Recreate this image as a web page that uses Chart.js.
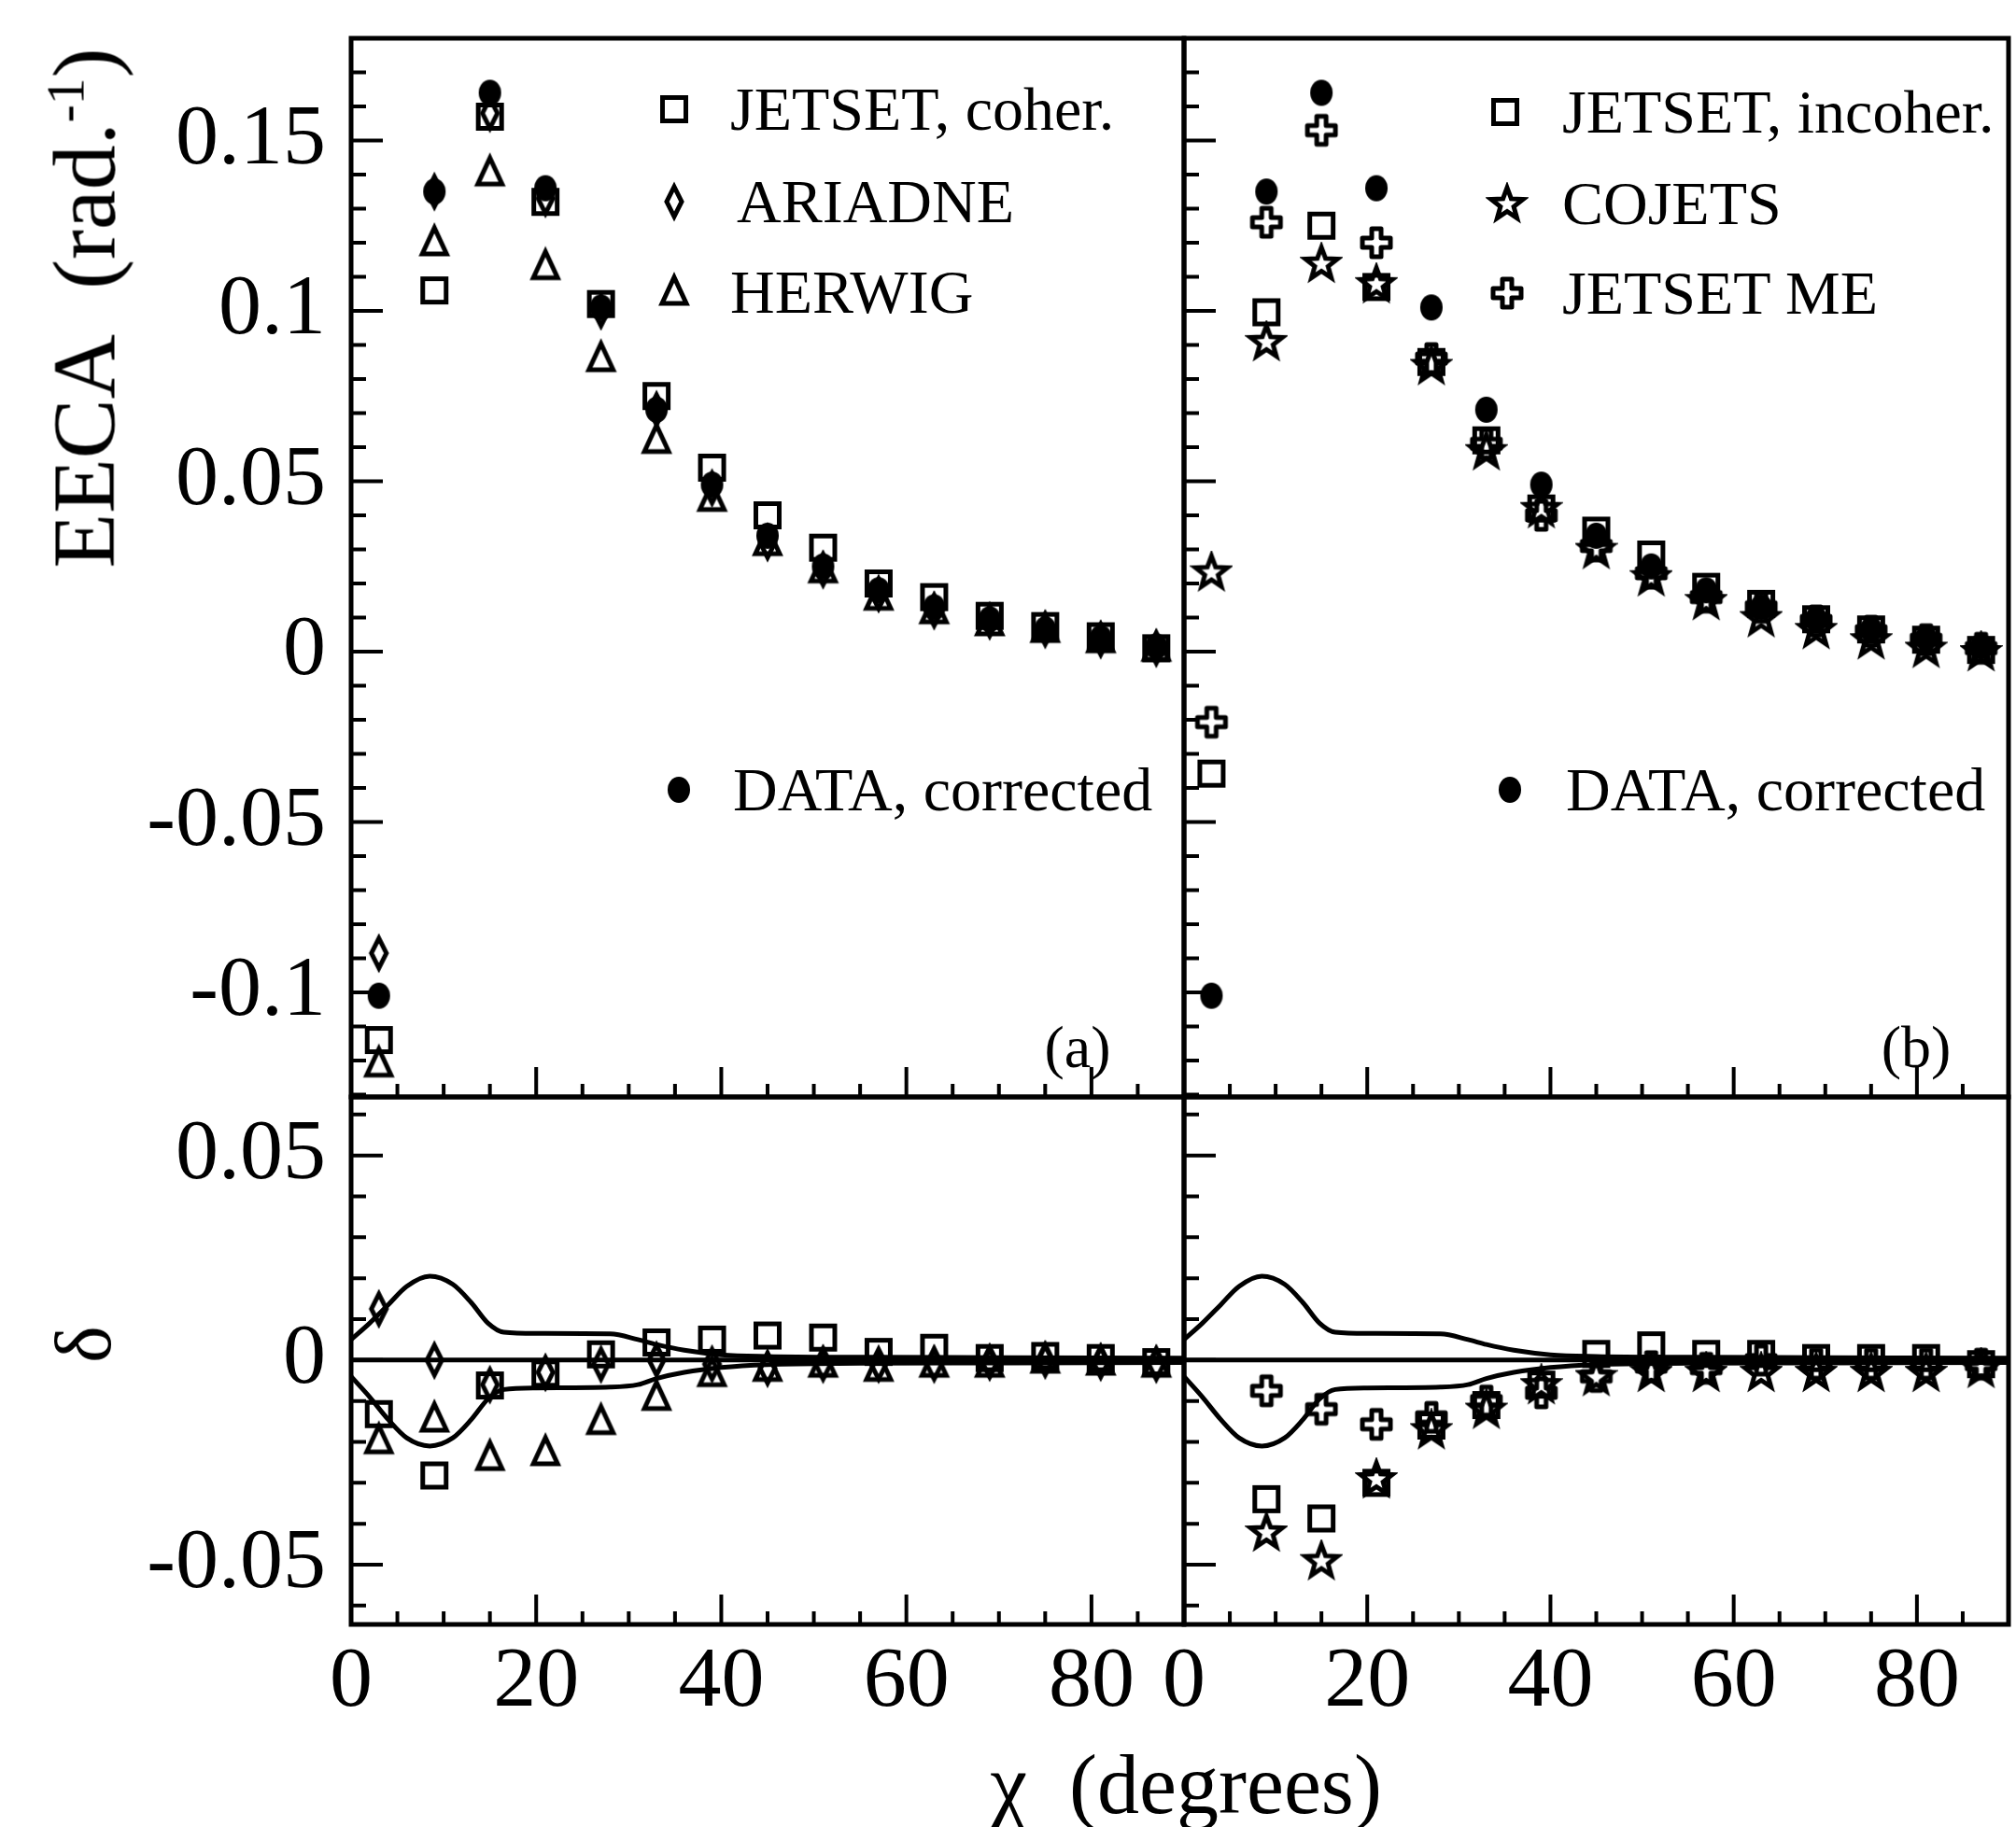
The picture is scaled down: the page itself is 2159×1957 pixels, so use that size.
<!DOCTYPE html>
<html>
<head>
<meta charset="utf-8">
<script src="https://cdn.jsdelivr.net/npm/chart.js@4.4.1/dist/chart.umd.min.js"></script>
<style>
html, body { margin: 0; padding: 0; background: #fff; overflow: hidden; }
#page { position: relative; width: 2159px; height: 1957px; overflow: hidden; background: #fff;
        font-family: "Liberation Serif", "DejaVu Serif", serif; color: #000; }
#page canvas.chart { position: absolute; left: 0; top: 0; }
.txt { position: absolute; white-space: nowrap; line-height: 1; }
.mk { position: absolute; }
</style>
</head>
<body>
<div id="page">
  <canvas class="chart" id="topA" width="2159" height="1957"></canvas>
  <canvas class="chart" id="topB" width="2166" height="1957"></canvas>
  <canvas class="chart" id="botA" width="2159" height="1957"></canvas>
  <canvas class="chart" id="botB" width="2166" height="1957"></canvas>
</div>
<script>
// bin centres (degrees)
const CHI = [3, 9, 15, 21, 27, 33, 39, 45, 51, 57, 63, 69, 75, 81, 87];

// EECA values
const DATA_EECA     = [-0.101, 0.135, 0.164, 0.136, 0.101, 0.071, 0.049, 0.034, 0.025, 0.018, 0.013, 0.0095, 0.0065, 0.004, 0.0015];
const COHER_EECA    = [-0.114, 0.106, 0.157, 0.132, 0.102, 0.075, 0.054, 0.040, 0.0305, 0.020, 0.016, 0.0105, 0.0075, 0.0045, 0.001];
const ARIADNE_EECA  = [-0.0885, 0.135, 0.158, 0.133, 0.100, 0.071, 0.048, 0.032, 0.024, 0.017, 0.012, 0.009, 0.0065, 0.0035, 0.001];
const HERWIG_EECA   = [-0.121, 0.120, 0.1405, 0.113, 0.086, 0.062, 0.045, 0.032, 0.024, 0.016, 0.012, 0.0085, 0.0065, 0.0035, 0.001];
const INCOHER_EECA  = [-0.0358, 0.0996, 0.125, 0.107, 0.085, 0.062, 0.042, 0.0355, 0.0285, 0.019, 0.014, 0.0095, 0.0065, 0.0035, 0.0005];
const COJETS_EECA   = [0.0234, 0.091, 0.114, 0.108, 0.084, 0.059, 0.042, 0.030, 0.022, 0.015, 0.010, 0.0065, 0.0035, 0.001, 0.0];
const JETSETME_EECA = [-0.0207, 0.126, 0.153, 0.120, 0.086, 0.061, 0.040, 0.031, 0.023, 0.016, 0.013, 0.009, 0.006, 0.0035, 0.001];

// delta values
const COHER_D    = [-0.0132, -0.0282, -0.0062, -0.0033, 0.0014, 0.0043, 0.0050, 0.0060, 0.0055, 0.0020, 0.0030, 0.0005, 0.0010, 0.0005, -0.0005];
const ARIADNE_D  = [0.0125, 0.0, -0.0060, -0.0030, -0.0010, 0.0, -0.0010, -0.0020, -0.0010, -0.0010, -0.0010, -0.0005, 0.0, -0.0005, -0.0010];
const HERWIG_D   = [-0.0197, -0.0144, -0.0238, -0.0226, -0.0150, -0.0091, -0.0033, -0.0020, -0.0010, -0.0020, -0.0010, -0.0010, 0.0, -0.0005, -0.0010];
const INCOHER_D  = [0.070, -0.034, -0.0387, -0.030, -0.016, -0.011, -0.006, 0.0015, 0.0036, 0.0015, 0.0015, 0.0005, 0.0005, 0.0005, -0.001];
const COJETS_D   = [0.125, -0.042, -0.049, -0.029, -0.017, -0.012, -0.006, -0.004, -0.003, -0.003, -0.003, -0.003, -0.003, -0.003, -0.002];
const JETSETME_D = [0.081, -0.0075, -0.012, -0.0157, -0.014, -0.010, -0.008, -0.004, -0.0016, -0.002, 0.0, -0.001, -0.001, -0.001, -0.001];

// data error band in the lower panels
const BAND_CHI = [0, 2, 4, 6, 8.5, 11, 13, 14.8, 16.5, 20, 28, 31, 33, 36, 40, 45, 55, 70, 90];
const BAND_UP  = [0.005, 0.009, 0.0135, 0.018, 0.0205, 0.0185, 0.014, 0.009, 0.0068, 0.0065, 0.0064, 0.0050, 0.0038, 0.0024, 0.0013, 0.0009, 0.0007, 0.0006, 0.0005];
const BAND_LO  = [-0.004, -0.009, -0.0145, -0.019, -0.021, -0.019, -0.0145, -0.0095, -0.0072, -0.0068, -0.0066, -0.0060, -0.0045, -0.0030, -0.0018, -0.0011, -0.0008, -0.0007, -0.0006];
const ZERO_CHI = [0, 90];
const ZERO_D   = [0, 0];

// axes
const X_TICKS = [0, 20, 40, 60, 80];
const X_LABELS = ['0', '20', '40', '60', '80'];
const Y_TOP_TICKS = [-0.1, -0.05, 0, 0.05, 0.1, 0.15];
const Y_TOP_LABELS = ['-0.1', '-0.05', '0', '0.05', '0.1', '0.15'];
const Y_BOT_TICKS = [-0.05, 0, 0.05];
const Y_BOT_LABELS = ['-0.05', '0', '0.05'];

const FONT = '"Liberation Serif", "DejaVu Serif", serif';

// marker pictures used as point styles
function makeMarker(kind) {
    const c = document.createElement('canvas');
    c.width = 46; c.height = 46;
    const g = c.getContext('2d');
    const cx = 23, cy = 23;
    g.strokeStyle = '#000';
    g.fillStyle = '#000';
    g.lineWidth = 5;
    g.lineJoin = 'miter';
    g.beginPath();
    if (kind === 'square') {
        g.rect(cx - 12.5, cy - 12.5, 25, 25);
    } else if (kind === 'triangle') {
        g.moveTo(cx, cy - 16); g.lineTo(cx + 13, cy + 12); g.lineTo(cx - 13, cy + 12); g.closePath();
    } else if (kind === 'diamond') {
        g.moveTo(cx, cy - 16); g.lineTo(cx + 8, cy); g.lineTo(cx, cy + 16); g.lineTo(cx - 8, cy); g.closePath();
    } else if (kind === 'circle') {
        g.ellipse(cx, cy, 12, 14, 0, 0, 2 * Math.PI);
        g.fill();
        return c;
    } else if (kind === 'star') {
        for (let i = 0; i < 10; i++) {
            const r = i % 2 === 0 ? 18 : 7.5;
            const a = -Math.PI / 2 + i * Math.PI / 5;
            const px = cx + r * Math.cos(a), py = cy + 1 + r * Math.sin(a);
            if (i === 0) g.moveTo(px, py); else g.lineTo(px, py);
        }
        g.closePath();
    } else if (kind === 'cross') {
        const w = 5, l = 15;
        g.lineJoin = 'round';
        g.moveTo(cx - w, cy - l); g.lineTo(cx + w, cy - l); g.lineTo(cx + w, cy - w);
        g.lineTo(cx + l, cy - w); g.lineTo(cx + l, cy + w); g.lineTo(cx + w, cy + w);
        g.lineTo(cx + w, cy + l); g.lineTo(cx - w, cy + l); g.lineTo(cx - w, cy + w);
        g.lineTo(cx - l, cy + w); g.lineTo(cx - l, cy - w); g.lineTo(cx - w, cy - w);
        g.closePath();
    }
    g.stroke();
    return c;
}

const MARK = {};
['square', 'triangle', 'diamond', 'circle', 'star', 'cross'].forEach(k => MARK[k] = makeMarker(k));

function pts(xs, ys) {
    return xs.map((x, i) => ({ x: x, y: ys[i] }));
}

function markerSet(label, values, kind) {
    return {
        label: label,
        data: pts(CHI, values),
        pointStyle: MARK[kind],
        pointRadius: 14,
        showLine: false
    };
}

function lineSet(label, xs, ys) {
    return {
        label: label,
        data: pts(xs, ys),
        showLine: true,
        pointRadius: 0,
        borderColor: '#000',
        borderWidth: 5,
        cubicInterpolationMode: 'monotone',
        fill: false
    };
}

// frame and inward tick marks, placed through the chart scales
const frameTicks = {
    id: 'frameTicks',
    afterDraw(chart) {
        const ctx = chart.ctx;
        const a = chart.chartArea;
        const xs = chart.scales.x, ys = chart.scales.y;
        ctx.save();
        ctx.strokeStyle = '#000';
        ctx.lineWidth = 4;
        ctx.beginPath();
        for (let v = 5; v < 90; v += 5) {
            const px = xs.getPixelForValue(v);
            const len = v % 20 === 0 ? 32 : 14;
            ctx.moveTo(px, a.bottom);
            ctx.lineTo(px, a.bottom - len);
        }
        const k0 = Math.ceil(ys.min * 100 - 1e-6), k1 = Math.floor(ys.max * 100 + 1e-6);
        for (let k = k0; k <= k1; k++) {
            const py = ys.getPixelForValue(k / 100);
            const len = k % 5 === 0 ? 34 : 16;
            ctx.moveTo(a.left, py);
            ctx.lineTo(a.left + len, py);
        }
        ctx.stroke();
        ctx.lineWidth = 5;
        ctx.strokeRect(a.left, a.top, a.right - a.left, a.bottom - a.top);
        ctx.restore();
    }
};

function xScale(show) {
    return {
        type: 'linear', min: 0, max: 90,
        display: show,
        grid: { display: false, drawTicks: false },
        border: { display: false },
        afterBuildTicks: s => { s.ticks = X_TICKS.map(v => ({ value: v })); },
        afterFit: s => {
            s.paddingLeft = 0; s.paddingRight = 0;
            if (show) s.height = 140;
        },
        ticks: {
            color: '#000', padding: 8, maxRotation: 0,
            font: { family: FONT, size: 92 },
            callback: v => X_LABELS[X_TICKS.indexOf(v)]
        }
    };
}

function yScale(show, min, max, ticks, labels) {
    return {
        type: 'linear', min: min, max: max,
        display: show,
        grid: { display: false, drawTicks: false },
        border: { display: false },
        afterBuildTicks: s => { s.ticks = ticks.map(v => ({ value: v })); },
        afterFit: s => {
            s.paddingTop = 0; s.paddingBottom = 0;
            if (show) s.width = 376;
        },
        ticks: {
            color: '#000', padding: 27,
            font: { family: FONT, size: 92 },
            callback: v => labels[ticks.indexOf(v)]
        }
    };
}

function makeChart(id, datasets, padding, showX, showY, yRange, yTicks, yLabels) {
    return new Chart(document.getElementById(id), {
        type: 'scatter',
        data: { datasets: datasets },
        options: {
            responsive: false,
            animation: false,
            devicePixelRatio: 1,
            layout: { padding: padding },
            plugins: { legend: { display: false }, tooltip: { enabled: false } },
            scales: {
                x: xScale(showX),
                y: yScale(showY, yRange[0], yRange[1], yTicks, yLabels)
            }
        },
        plugins: [frameTicks]
    });
}

const TOP_RANGE = [-0.1307, 0.180];
const BOT_RANGE = [-0.0646, 0.0643];

// (a) upper
makeChart('topA', [
    markerSet('DATA, corrected', DATA_EECA, 'circle'),
    markerSet('JETSET, coher.', COHER_EECA, 'square'),
    markerSet('ARIADNE', ARIADNE_EECA, 'diamond'),
    markerSet('HERWIG', HERWIG_EECA, 'triangle')
], { left: 0, top: 41, right: 891, bottom: 782 }, false, true, TOP_RANGE, Y_TOP_TICKS, Y_TOP_LABELS);

// (b) upper, its right edge runs off the page
makeChart('topB', [
    markerSet('DATA, corrected', DATA_EECA, 'circle'),
    markerSet('JETSET ME', JETSETME_EECA, 'cross'),
    markerSet('JETSET, incoher.', INCOHER_EECA, 'square'),
    markerSet('COJETS', COJETS_EECA, 'star')
], { left: 1268, top: 41, right: 0, bottom: 782 }, false, false, TOP_RANGE, Y_TOP_TICKS, Y_TOP_LABELS);

// (a) lower
makeChart('botA', [
    markerSet('ARIADNE', ARIADNE_D, 'diamond'),
    markerSet('JETSET, coher.', COHER_D, 'square'),
    markerSet('HERWIG', HERWIG_D, 'triangle'),
    lineSet('zero', ZERO_CHI, ZERO_D),
    lineSet('band up', BAND_CHI, BAND_UP),
    lineSet('band low', BAND_CHI, BAND_LO)
], { left: 0, top: 1175, right: 891, bottom: 77 }, true, true, BOT_RANGE, Y_BOT_TICKS, Y_BOT_LABELS);

// (b) lower
makeChart('botB', [
    markerSet('JETSET ME', JETSETME_D, 'cross'),
    markerSet('JETSET, incoher.', INCOHER_D, 'square'),
    markerSet('COJETS', COJETS_D, 'star'),
    lineSet('zero', ZERO_CHI, ZERO_D),
    lineSet('band up', BAND_CHI, BAND_UP),
    lineSet('band low', BAND_CHI, BAND_LO)
], { left: 1268, top: 1175, right: 0, bottom: 77 }, true, false, BOT_RANGE, Y_BOT_TICKS, Y_BOT_LABELS);

// legends and titles (html text)
const page = document.getElementById('page');

function addText(html, x, y, size, extra) {
    const d = document.createElement('div');
    d.className = 'txt';
    d.innerHTML = html;
    d.style.left = x + 'px';
    d.style.top = y + 'px';
    d.style.fontSize = size + 'px';
    d.style.transform = extra || 'translateY(-50%)';
    page.appendChild(d);
    return d;
}

function addMark(kind, x, y) {
    const c = makeMarker(kind);
    c.className = 'mk';
    c.style.left = (x - 23) + 'px';
    c.style.top = (y - 23) + 'px';
    page.appendChild(c);
}

const LEGEND = [
    { text: 'JETSET, coher.', kind: 'square', mx: 722, tx: 782, y: 117 },
    { text: 'ARIADNE', kind: 'diamond', mx: 722, tx: 789, y: 216 },
    { text: 'HERWIG', kind: 'triangle', mx: 722, tx: 782, y: 313 },
    { text: 'DATA, corrected', kind: 'circle', mx: 727, tx: 785, y: 846 },
    { text: 'JETSET, incoher.', kind: 'square', mx: 1612, tx: 1673, y: 120 },
    { text: 'COJETS', kind: 'star', mx: 1614, tx: 1673, y: 218 },
    { text: 'JETSET ME', kind: 'cross', mx: 1614, tx: 1673, y: 314 },
    { text: 'DATA, corrected', kind: 'circle', mx: 1617, tx: 1677, y: 846 }
];
LEGEND.forEach(e => {
    addMark(e.kind, e.mx, e.y);
    addText(e.text, e.tx, e.y, 66);
});

addText('(a)', 1154, 1122, 64, 'translate(-50%, -50%)');
addText('(b)', 2052, 1122, 64, 'translate(-50%, -50%)');

addText('EECA&nbsp;&nbsp;(rad.<sup style="font-size:60%">-1</sup>)', 90, 330, 96, 'translate(-50%, -50%) rotate(-90deg)');
addText('&delta;', 90, 1440, 84, 'translate(-50%, -50%) rotate(-90deg)');
addText('&chi;&nbsp;&nbsp;(degrees)', 1270, 1912, 90, 'translate(-50%, -50%)');
</script>
</body>
</html>
